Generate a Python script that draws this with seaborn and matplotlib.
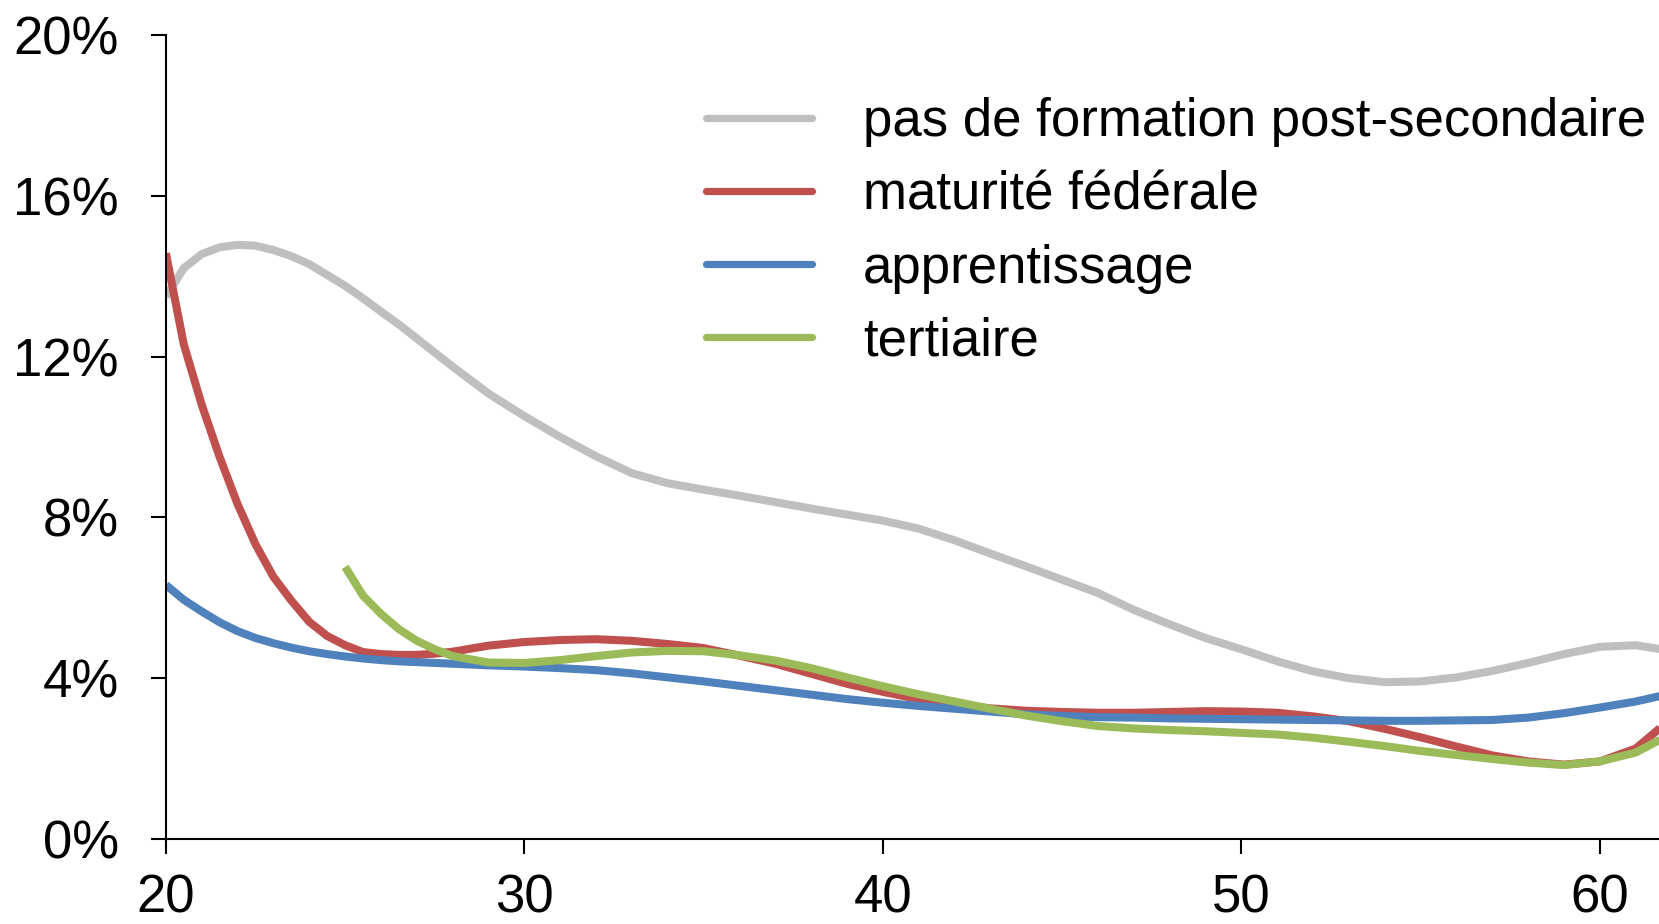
import numpy as np
import pandas as pd
import matplotlib
matplotlib.use("Agg")
import matplotlib.pyplot as plt
import seaborn as sns
from matplotlib.lines import Line2D

ages = [20, 20.5, 21, 21.5, 22, 22.5, 23, 23.5, 24, 24.5, 25, 25.5, 26, 26.5,
        27, 27.5, 28, 29, 30, 31, 32, 33, 34, 35, 36, 37, 38, 39, 40, 41, 42,
        43, 44, 45, 46, 47, 48, 49, 50, 51, 52, 53, 54, 55, 56, 57, 58, 59,
        60, 61, 62]

pas_de_formation = [13.49, 14.2, 14.55, 14.72, 14.78, 14.76, 14.65, 14.5, 14.3,
                    14.03, 13.76, 13.45, 13.12, 12.8, 12.45, 12.1, 11.75,
                    11.08, 10.52, 10.0, 9.52, 9.1, 8.85, 8.69, 8.54, 8.38, 8.22,
                    8.07, 7.92, 7.72, 7.43, 7.1, 6.78, 6.45, 6.12, 5.7, 5.34,
                    5.0, 4.72, 4.42, 4.17, 4.0, 3.9, 3.92, 4.02, 4.18, 4.38,
                    4.6, 4.78, 4.82, 4.68]
maturite = [14.57, 12.3, 10.8, 9.5, 8.33, 7.33, 6.52, 5.93, 5.4, 5.05, 4.82,
            4.65, 4.6, 4.58, 4.58, 4.61, 4.66, 4.81, 4.9, 4.95, 4.97, 4.93,
            4.85, 4.75, 4.56, 4.36, 4.11, 3.86, 3.66, 3.48, 3.35, 3.25, 3.19,
            3.16, 3.14, 3.14, 3.16, 3.18, 3.17, 3.14, 3.05, 2.93, 2.74, 2.53,
            2.3, 2.08, 1.93, 1.85, 1.93, 2.25, 3.0]
apprentissage = [6.32, 5.95, 5.66, 5.39, 5.17, 5.0, 4.87, 4.76, 4.67, 4.6,
                 4.54, 4.49, 4.45, 4.42, 4.4, 4.38, 4.36, 4.32, 4.29, 4.25,
                 4.2, 4.12, 4.02, 3.92, 3.81, 3.7, 3.59, 3.48, 3.39, 3.31,
                 3.24, 3.17, 3.1, 3.06, 3.03, 3.02, 3.0, 2.99, 2.98, 2.97,
                 2.96, 2.95, 2.94, 2.94, 2.95, 2.96, 3.02, 3.13, 3.27, 3.42,
                 3.62]
tertiaire = [np.nan] * 10 + [6.77, 6.05, 5.6, 5.22, 4.93, 4.72, 4.55, 4.39,
             4.38, 4.45, 4.55, 4.64, 4.68, 4.67, 4.57, 4.44, 4.25, 4.02, 3.8,
             3.6, 3.42, 3.24, 3.07, 2.93, 2.81, 2.75, 2.71, 2.68, 2.64, 2.6,
             2.52, 2.42, 2.31, 2.19, 2.09, 1.99, 1.9, 1.84, 1.93, 2.15, 2.62]

series_names = ["pas de formation post-secondaire", "maturité fédérale",
                "apprentissage", "tertiaire"]
series_values = [pas_de_formation, maturite, apprentissage, tertiaire]
colors = ["#BFBFBF", "#C0504D", "#4F81BD", "#9BBB59"]

y_ticks = [0, 4, 8, 12, 16, 20]
y_tick_labels = ["0%", "4%", "8%", "12%", "16%", "20%"]
x_ticks = [20, 30, 40, 50, 60]

rows = []
for name, vals in zip(series_names, series_values):
    for a, v in zip(ages, vals):
        if not np.isnan(v):
            rows.append({"age": a, "taux": v, "groupe": name})
df = pd.DataFrame(rows)

sns.set_style("ticks")
plt.rcParams["font.family"] = ["Liberation Sans", "DejaVu Sans"]
plt.rcParams["text.color"] = "black"

fig = plt.figure(figsize=(16.59, 9.24), dpi=100)
ax = fig.add_axes([0.1, 0.092, 0.9, 0.8701])

sns.lineplot(data=df, x="age", y="taux", hue="groupe", hue_order=series_names,
             palette=colors, linewidth=5.8, ax=ax, legend=False,
             solid_capstyle="butt", solid_joinstyle="round")

ax.set_xlim(20, 61.65)
ax.set_ylim(0, 20)
ax.set_yticks(y_ticks)
ax.set_yticklabels(y_tick_labels)
ax.set_xticks(x_ticks)
ax.set_xlabel("")
ax.set_ylabel("")
for s in ["top", "right"]:
    ax.spines[s].set_visible(False)
for s in ["left", "bottom"]:
    ax.spines[s].set_linewidth(1.5)
    ax.spines[s].set_color("black")
ax.tick_params(axis="y", length=11, width=1.5, pad=23, labelsize=38, colors="black")
ax.tick_params(axis="x", length=11, width=1.5, pad=14, labelsize=38, colors="black")

handles = [Line2D([0], [0], color=c, lw=5.2) for c in colors]
leg = fig.legend(handles, series_names, loc="upper left",
                 bbox_to_anchor=(0.4256, 0.8947), frameon=False, fontsize=38,
                 handlelength=2.0, handletextpad=0.97, labelspacing=0.44,
                 borderpad=0, borderaxespad=0)
for t in leg.get_texts():
    t.set_color("black")

fig.savefig("out.png", dpi=100)
